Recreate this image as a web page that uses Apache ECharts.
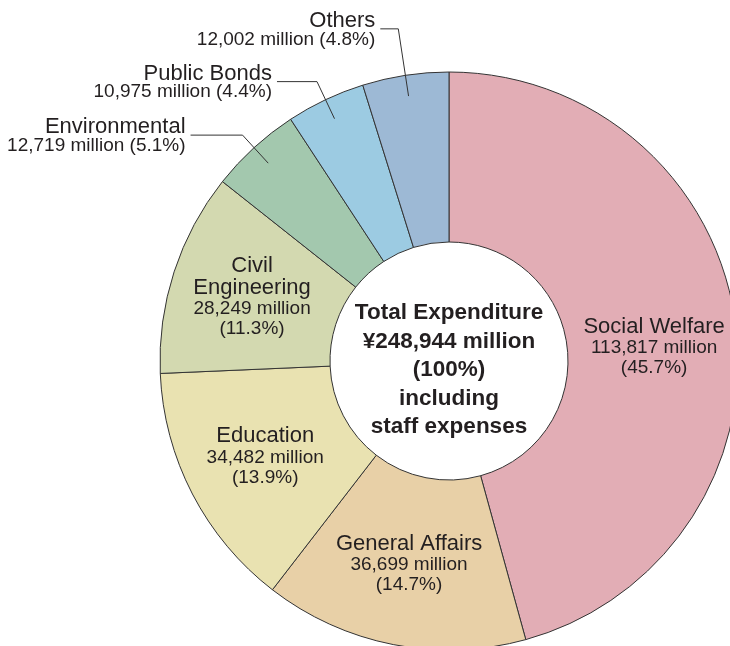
<!DOCTYPE html>
<html>
<head>
<meta charset="utf-8">
<script src="https://cdn.jsdelivr.net/npm/echarts@6/dist/echarts.min.js"></script>
<style>
  body { margin: 0; background: #fff; }
  #chart { width: 730px; height: 646px; }
</style>
</head>
<body>
<div id="chart"></div>
<script>
// expenditure breakdown, clockwise from 12 o'clock
const categories = ['Social Welfare', 'General Affairs', 'Education', 'Civil Engineering', 'Environmental', 'Public Bonds', 'Others'];
const amounts = [113817, 36699, 34482, 28249, 12719, 10975, 12002];
const shares = [45.7, 14.7, 13.9, 11.3, 5.1, 4.4, 4.8];
const totalText = ['Total Expenditure', '¥248,944 million', '(100%)', 'including', 'staff expenses'];

// small slices get an outside label with a leader line
const outside = ['Environmental', 'Public Bonds', 'Others'];
const leader = { 'Environmental': [38, 52], 'Public Bonds': [41, 40], 'Others': [68, 18] };

const colors = ['#e2adb5', '#e8d0a7', '#e9e2b1', '#d3d9b0', '#a3c8ae', '#9ccbe2', '#9db9d5'];
const font = '"Liberation Sans", Arial, Helvetica, sans-serif';
const ink = '#231f20';

const fmt = n => n.toLocaleString('en-US');

let myChart = echarts.init(document.getElementById('chart'));

const ringData = categories.map((name, i) => ({
    name: name,
    value: amounts[i],
    itemStyle: { color: colors[i] },
    label: { show: outside.indexOf(name) < 0 }
}));

const pointerData = categories.map((name, i) => {
    const isOut = outside.indexOf(name) >= 0;
    return {
        name: name,
        value: amounts[i],
        label: { show: isOut },
        labelLine: isOut ? { show: true, length: leader[name][0], length2: leader[name][1] } : { show: false }
    };
});

myChart.setOption({
    animation: false,
    textStyle: { fontFamily: font },
    graphic: [{
        type: 'text',
        x: 449,
        y: 370,
        style: {
            text: totalText.join('\n'),
            textAlign: 'center',
            textVerticalAlign: 'middle',
            font: 'bold 22.5px ' + font,
            lineHeight: 28.5,
            fill: ink
        }
    }],
    series: [
        {
            type: 'pie',
            center: [449, 361],
            radius: [119, 289],
            startAngle: 90,
            avoidLabelOverlap: false,
            silent: true,
            data: ringData,
            itemStyle: { borderColor: '#333', borderWidth: 1 },
            label: {
                position: 'inside',
                color: ink,
                align: 'center',
                formatter: p => {
                    const i = p.dataIndex;
                    const nameLines = categories[i] === 'Civil Engineering' ? ['Civil', 'Engineering'] : [categories[i]];
                    return nameLines.map(s => '{n|' + s + '}').join('\n') +
                        '\n{v|' + fmt(amounts[i]) + ' million}\n{v|(' + shares[i] + '%)}';
                },
                rich: {
                    n: { fontSize: 22, lineHeight: 22, color: ink, fontFamily: font },
                    v: { fontSize: 19, lineHeight: 20, color: ink, fontFamily: font }
                }
            },
            labelLayout: p => (p.dataIndex === 0 ? { dy: 14 } : {}),
            labelLine: { show: false }
        },
        {
            // invisible copy, only carries the outside labels
            type: 'pie',
            center: [449, 361],
            radius: [0, 268],
            startAngle: 90,
            avoidLabelOverlap: false,
            silent: true,
            z: 3,
            data: pointerData,
            itemStyle: { color: 'rgba(0,0,0,0)' },
            label: {
                position: 'outside',
                alignTo: 'none',
                color: ink,
                formatter: p => {
                    const i = p.dataIndex;
                    return '{n|' + categories[i] + '}\n{v|' + fmt(amounts[i]) + ' million (' + shares[i] + '%)}';
                },
                rich: {
                    n: { fontSize: 22, lineHeight: 21, padding: [5, 0, 0, 0], color: ink, fontFamily: font, align: 'right' },
                    v: { fontSize: 19, lineHeight: 21, color: ink, fontFamily: font, align: 'right' }
                }
            },
            labelLine: { lineStyle: { color: '#333', width: 1 } }
        }
    ]
});
</script>
</body>
</html>
